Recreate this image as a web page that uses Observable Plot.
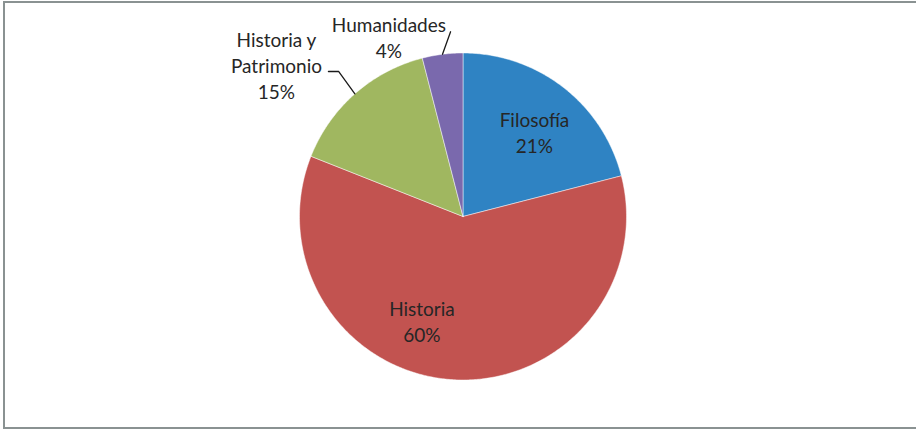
<!DOCTYPE html>
<html>
<head>
<meta charset="utf-8">
<script src="https://cdn.jsdelivr.net/npm/d3@7"></script>
<script src="https://cdn.jsdelivr.net/npm/@observablehq/plot@0.6"></script>
<style>
  html, body { margin: 0; padding: 0; background: #fff; overflow: hidden; }
  #wrap { position: relative; width: 916px; height: 430px; }
  #frame { position: absolute; left: 3px; top: 1px; width: 930px; height: 428px;
           box-sizing: border-box; border: 2px solid #8a9292; pointer-events: none; }
  #chart { position: absolute; left: 0; top: 0; }
</style>
</head>
<body>
<div id="wrap"><div id="chart"></div><div id="frame"></div></div>
<script>
// Data
const categories = ["Filosofía", "Historia", "Historia y Patrimonio", "Humanidades"];
const values = [21, 60, 15, 4];
const labelTexts = ["Filosofía\n21%", "Historia\n60%", "Historia y\nPatrimonio\n15%", "Humanidades\n4%"];
const colors = ["#2F83C3", "#C25350", "#A0B760", "#7A69AD"];

// Layout (units of pie radius, relative to centre)
const R = 163.5, CX = 462.5, CY = 216, W = 916, H = 430;
const labelPos = [[0.437, 0.52], [-0.251, -0.635], [-1.141, 0.93], [-0.453, 1.10]];
const leaderEnds = [null, null, [[-0.761, 0.887], [-0.823, 0.887]], [[-0.076, 1.13]]];

const arcs = d3.pie().sort(null).value(d => d)(values);

const polys = [];
arcs.forEach((a, i) => {
  const name = categories[i];
  polys.push({name, x: 0, y: 0});
  const n = Math.max(4, Math.ceil((a.endAngle - a.startAngle) / 0.01));
  for (let k = 0; k <= n; k++) {
    const t = a.startAngle + (a.endAngle - a.startAngle) * k / n;
    polys.push({name, x: Math.sin(t), y: Math.cos(t)});
  }
  polys.push({name, x: 0, y: 0});
});

const labels = categories.map((c, i) => ({name: c, text: labelTexts[i], x: labelPos[i][0], y: labelPos[i][1]}));

const leaders = [];
arcs.forEach((a, i) => {
  if (!leaderEnds[i]) return;
  const m = (a.startAngle + a.endAngle) / 2;
  leaders.push({name: categories[i], x: Math.sin(m), y: Math.cos(m)});
  leaderEnds[i].forEach(p => leaders.push({name: categories[i], x: p[0], y: p[1]}));
});

const plot = Plot.plot({
  width: W, height: H,
  margin: 0,
  x: {domain: [-CX / R, (W - CX) / R], axis: null},
  y: {domain: [-(H - CY) / R, CY / R], axis: null},
  color: {domain: categories, range: colors},
  style: {fontFamily: "Lato, sans-serif", background: "transparent"},
  marks: [
    Plot.line(polys, {x: "x", y: "y", z: "name", fill: "name", stroke: "#ffffff", strokeWidth: 0.6, strokeOpacity: 0.8, curve: "linear"}),
    Plot.line(leaders, {x: "x", y: "y", z: "name", stroke: "#1a1a1a", strokeWidth: 1.3}),
    Plot.text(labels, {x: "x", y: "y", text: "text", fill: "#262626", fontSize: 19, lineHeight: 1.37, lineAnchor: "middle", textAnchor: "middle"})
  ]
});
document.getElementById("chart").appendChild(plot);
</script>
</body>
</html>
